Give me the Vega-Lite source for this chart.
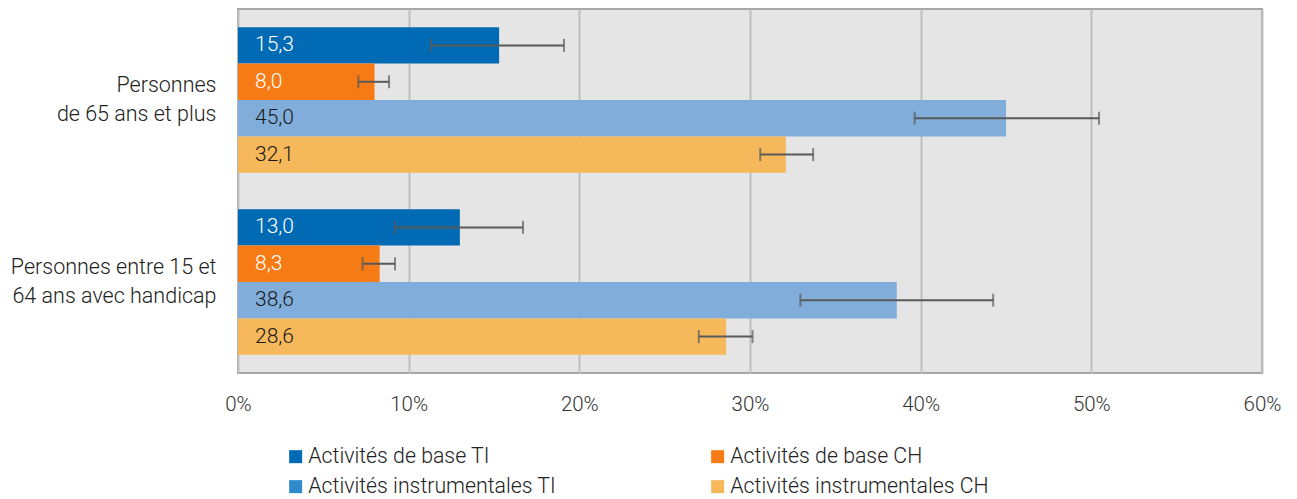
{
  "$schema": "https://vega.github.io/schema/vega-lite/v6.json",
  "autosize": "none",
  "width": 1024,
  "height": 364,
  "padding": {"left": 238, "top": 9, "right": 35, "bottom": 126},
  "config": {
    "font": "Roboto",
    "locale": {"number": {"decimal": ",", "thousands": " ", "grouping": [3], "currency": ["", " €"]}},
    "view": {"fill": "#E5E5E5", "stroke": "#A6A6A6", "strokeWidth": 2}
  },
  "data": {
    "values": [
      {"group": "Personnes |de 65 ans et plus", "series": "Activités de base TI", "value": 15.3, "lo": 11.3, "hi": 19.1},
      {"group": "Personnes |de 65 ans et plus", "series": "Activités de base CH", "value": 8.0, "lo": 7.05, "hi": 8.85},
      {"group": "Personnes |de 65 ans et plus", "series": "Activités instrumentales TI", "value": 45.0, "lo": 39.65, "hi": 50.45},
      {"group": "Personnes |de 65 ans et plus", "series": "Activités instrumentales CH", "value": 32.1, "lo": 30.6, "hi": 33.7},
      {"group": "Personnes entre 15 et|64 ans avec handicap", "series": "Activités de base TI", "value": 13.0, "lo": 9.2, "hi": 16.7},
      {"group": "Personnes entre 15 et|64 ans avec handicap", "series": "Activités de base CH", "value": 8.3, "lo": 7.3, "hi": 9.2},
      {"group": "Personnes entre 15 et|64 ans avec handicap", "series": "Activités instrumentales TI", "value": 38.6, "lo": 32.95, "hi": 44.25},
      {"group": "Personnes entre 15 et|64 ans avec handicap", "series": "Activités instrumentales CH", "value": 28.6, "lo": 27.0, "hi": 30.15}
    ]
  },
  "encoding": {
    "y": {
      "field": "group", "type": "nominal", "sort": null,
      "scale": {"paddingInner": 0.2, "paddingOuter": 0.1},
      "axis": {
        "title": null, "ticks": false, "domain": false,
        "labelExpr": "split(datum.value, '|')",
        "labelFontSize": 21.5, "labelFontWeight": 300, "labelColor": "#222222",
        "labelPadding": 22, "labelLineHeight": 29, "labelLimit": 300,
        "labelOffset": -14.5
      }
    },
    "yOffset": {
      "field": "series", "type": "nominal",
      "sort": ["Activités de base TI", "Activités de base CH", "Activités instrumentales TI", "Activités instrumentales CH"],
      "scale": {"paddingInner": 0, "paddingOuter": 0}
    }
  },
  "layer": [
    {
      "mark": {"type": "bar", "stroke": null},
      "encoding": {
        "x": {
          "field": "value", "type": "quantitative",
          "scale": {"domain": [0, 60], "nice": false},
          "axis": {
            "title": null, "values": [0, 10, 20, 30, 40, 50, 60],
            "labelExpr": "datum.value + '%'",
            "domain": false, "ticks": false, "labelFlush": false,
            "grid": true, "gridColor": "#BFBFBF", "gridWidth": 2,
            "labelFontSize": 20.5, "labelFontWeight": 300, "labelColor": "#333333",
            "labelPadding": 21
          }
        },
        "color": {
          "field": "series", "type": "nominal",
          "scale": {
            "domain": ["Activités instrumentales CH", "Activités instrumentales TI", "Activités de base CH", "Activités de base TI"],
            "range": ["#F5B85A", "#80ADD9", "#F67B15", "#006AB4"]
          },
          "legend": null
        }
      }
    },
    {
      "mark": {"type": "point", "shape": "square", "filled": true, "size": 0, "opacity": 1},
      "encoding": {
        "x": {"datum": 0},
        "fill": {
          "field": "series", "type": "nominal",
          "scale": {
            "domain": ["Activités de base TI", "Activités de base CH", "Activités instrumentales TI", "Activités instrumentales CH"],
            "range": ["#006AB4", "#F67B15", "#2E8BCB", "#F5B85A"]
          },
          "legend": {
            "title": null, "orient": "none", "legendX": 47, "legendY": 437,
            "direction": "horizontal", "columns": 2,
            "symbolType": "square", "symbolSize": 169, "symbolStrokeWidth": 0,
            "labelFontSize": 21.3, "labelFontWeight": 300, "labelColor": "#222222",
            "labelOffset": 2, "columnPadding": 150, "rowPadding": 8, "padding": 0,
            "labelLimit": 400
          }
        }
      }
    },
    {
      "mark": {"type": "rule", "color": "#595959", "strokeWidth": 2},
      "encoding": {
        "x": {"field": "lo", "type": "quantitative"},
        "x2": {"field": "hi"}
      }
    },
    {
      "mark": {"type": "tick", "orient": "vertical", "color": "#595959", "thickness": 2, "size": 13},
      "encoding": {"x": {"field": "lo", "type": "quantitative"}}
    },
    {
      "mark": {"type": "tick", "orient": "vertical", "color": "#595959", "thickness": 2, "size": 13},
      "encoding": {"x": {"field": "hi", "type": "quantitative"}}
    },
    {
      "mark": {"type": "text", "align": "left", "baseline": "middle", "dx": 17, "fontSize": 21, "fontWeight": 300},
      "encoding": {
        "x": {"datum": 0},
        "text": {"field": "value", "type": "quantitative", "format": ".1f"},
        "color": {
          "condition": {"test": "indexof(datum.series, 'base') >= 0", "value": "#FFFFFF"},
          "value": "#1A1A1A"
        }
      }
    }
  ]
}
